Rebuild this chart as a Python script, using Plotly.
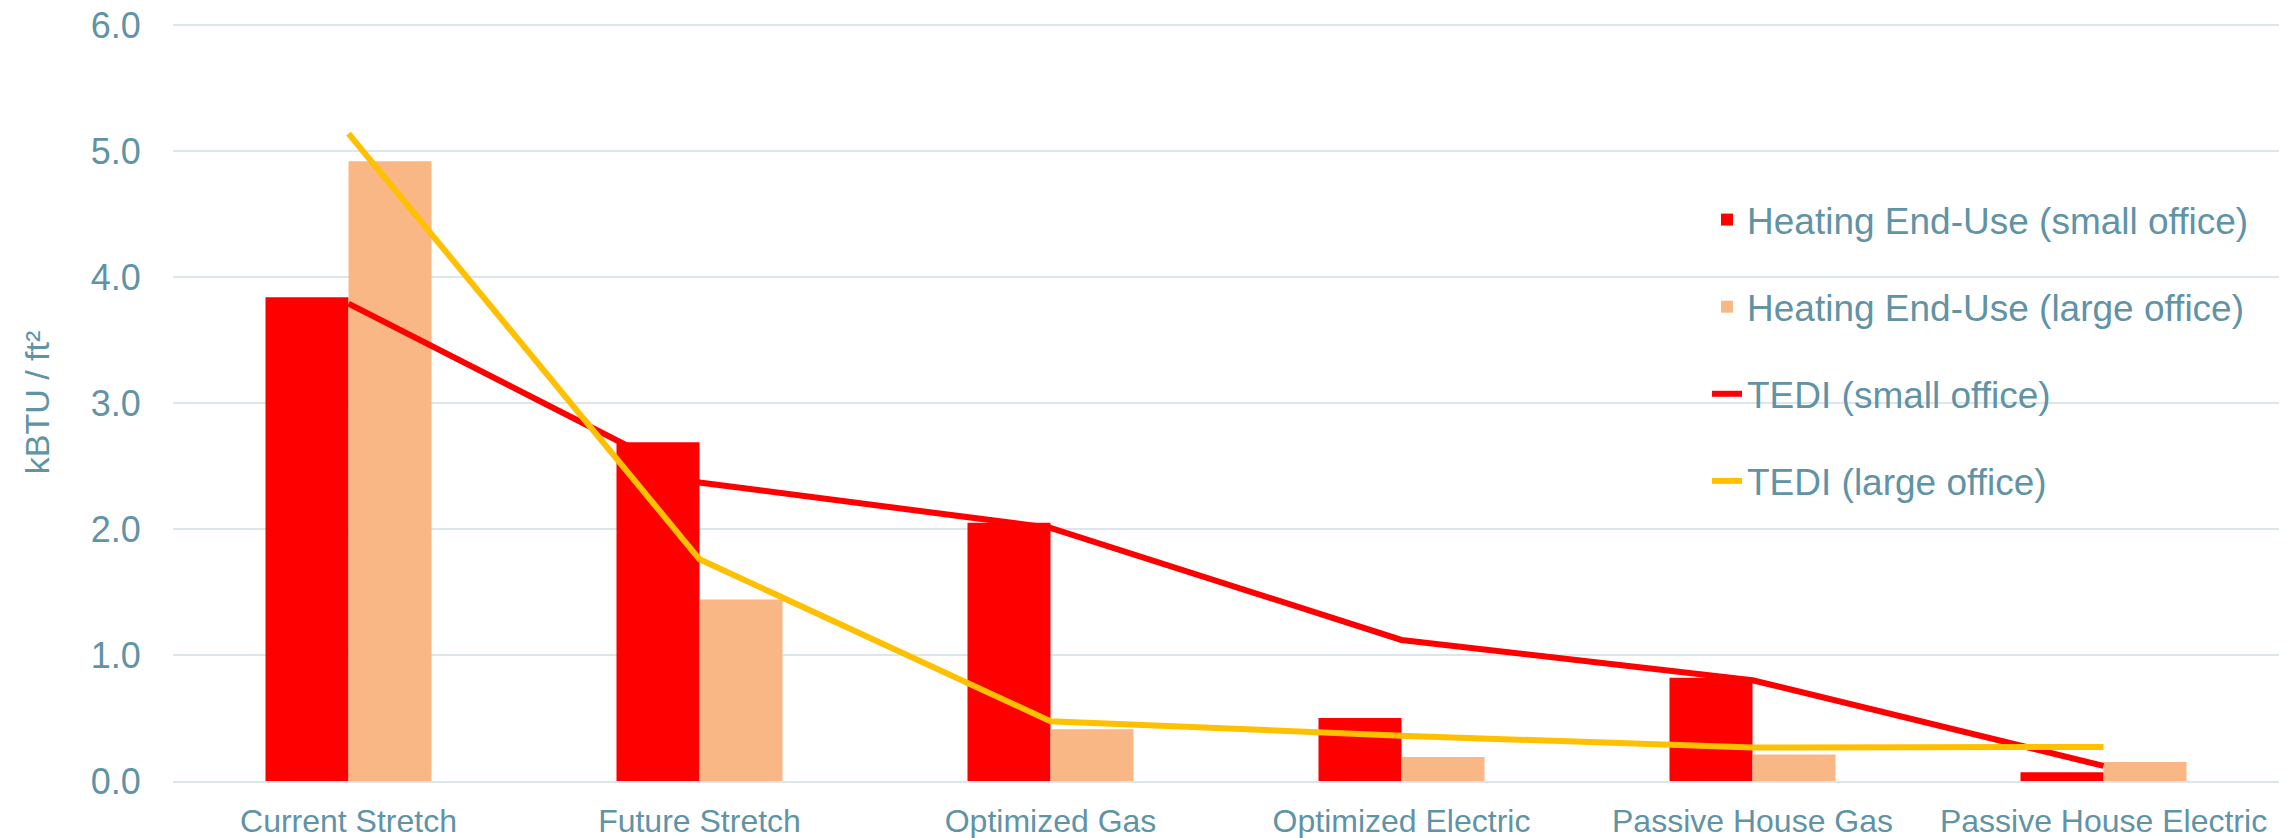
import plotly.graph_objects as go

categories = ["Current Stretch", "Future Stretch", "Optimized Gas",
              "Optimized Electric", "Passive House Gas", "Passive House Electric"]
heat_small = [3.84, 2.69, 2.05, 0.50, 0.82, 0.07]
heat_large = [4.92, 1.44, 0.41, 0.19, 0.21, 0.15]
tedi_small = [3.79, 2.37, 2.01, 1.12, 0.80, 0.12]
tedi_large = [5.14, 1.76, 0.475, 0.36, 0.265, 0.27]
y_ticks = [0, 1, 2, 3, 4, 5, 6]
y_ticklabels = ["0.0", "1.0", "2.0", "3.0", "4.0", "5.0", "6.0"]

TXT = "#5F93A5"
GRID = "#DCE7EC"
FONT = "Liberation Sans, Arial, sans-serif"

fig = go.Figure()
fig.add_trace(go.Bar(x=categories, y=heat_small, name="Heating End-Use (small office)",
                     marker=dict(color="#FF0000", line=dict(width=0)), legendgroup="a"))
fig.add_trace(go.Bar(x=categories, y=heat_large, name="Heating End-Use (large office)",
                     marker=dict(color="#F8B784", line=dict(width=0)), legendgroup="b"))
fig.add_trace(go.Scatter(x=categories, y=tedi_small, name="TEDI (small office)", mode="lines",
                         line=dict(color="#FF0000", width=6), legendgroup="c"))
fig.add_trace(go.Scatter(x=categories, y=tedi_large, name="TEDI (large office)", mode="lines",
                         line=dict(color="#FFC000", width=6), legendgroup="d"))

# page body has an 8px margin, so the figure is sized/offset to compensate
fig.update_layout(
    width=2279, height=830,
    margin=dict(l=165, r=8, t=16, b=57, autoexpand=False),
    paper_bgcolor="white", plot_bgcolor="white",
    barmode="group", bargap=0.527, bargroupgap=0,
    font=dict(family=FONT, color=TXT),
    showlegend=True,
    legend=dict(x=0.7284, y=0.782, xanchor="left", yanchor="top",
                font=dict(size=37, color=TXT, family=FONT),
                bgcolor="rgba(0,0,0,0)", tracegroupgap=36,
                traceorder="grouped"),
    xaxis=dict(showgrid=False, showline=True, linecolor=GRID, linewidth=2,
               tickfont=dict(size=32, color=TXT, family=FONT),
               ticks="outside", ticklen=11, tickcolor="rgba(0,0,0,0)",
               zeroline=False, automargin=False, ticklabeloverflow="allow"),
    yaxis=dict(range=[0, 6.01], tickvals=y_ticks, ticktext=y_ticklabels,
               showgrid=True, gridcolor=GRID, gridwidth=2, zeroline=False,
               showline=False, automargin=False, ticklabeloverflow="allow",
               tickfont=dict(size=36, color=TXT, family=FONT),
               ticks="outside", ticklen=24, tickcolor="rgba(0,0,0,0)",
               title=dict(text="kBTU / ft²", font=dict(size=34, color=TXT, family=FONT),
                          standoff=30)),
)

fig.write_html("out.html")
